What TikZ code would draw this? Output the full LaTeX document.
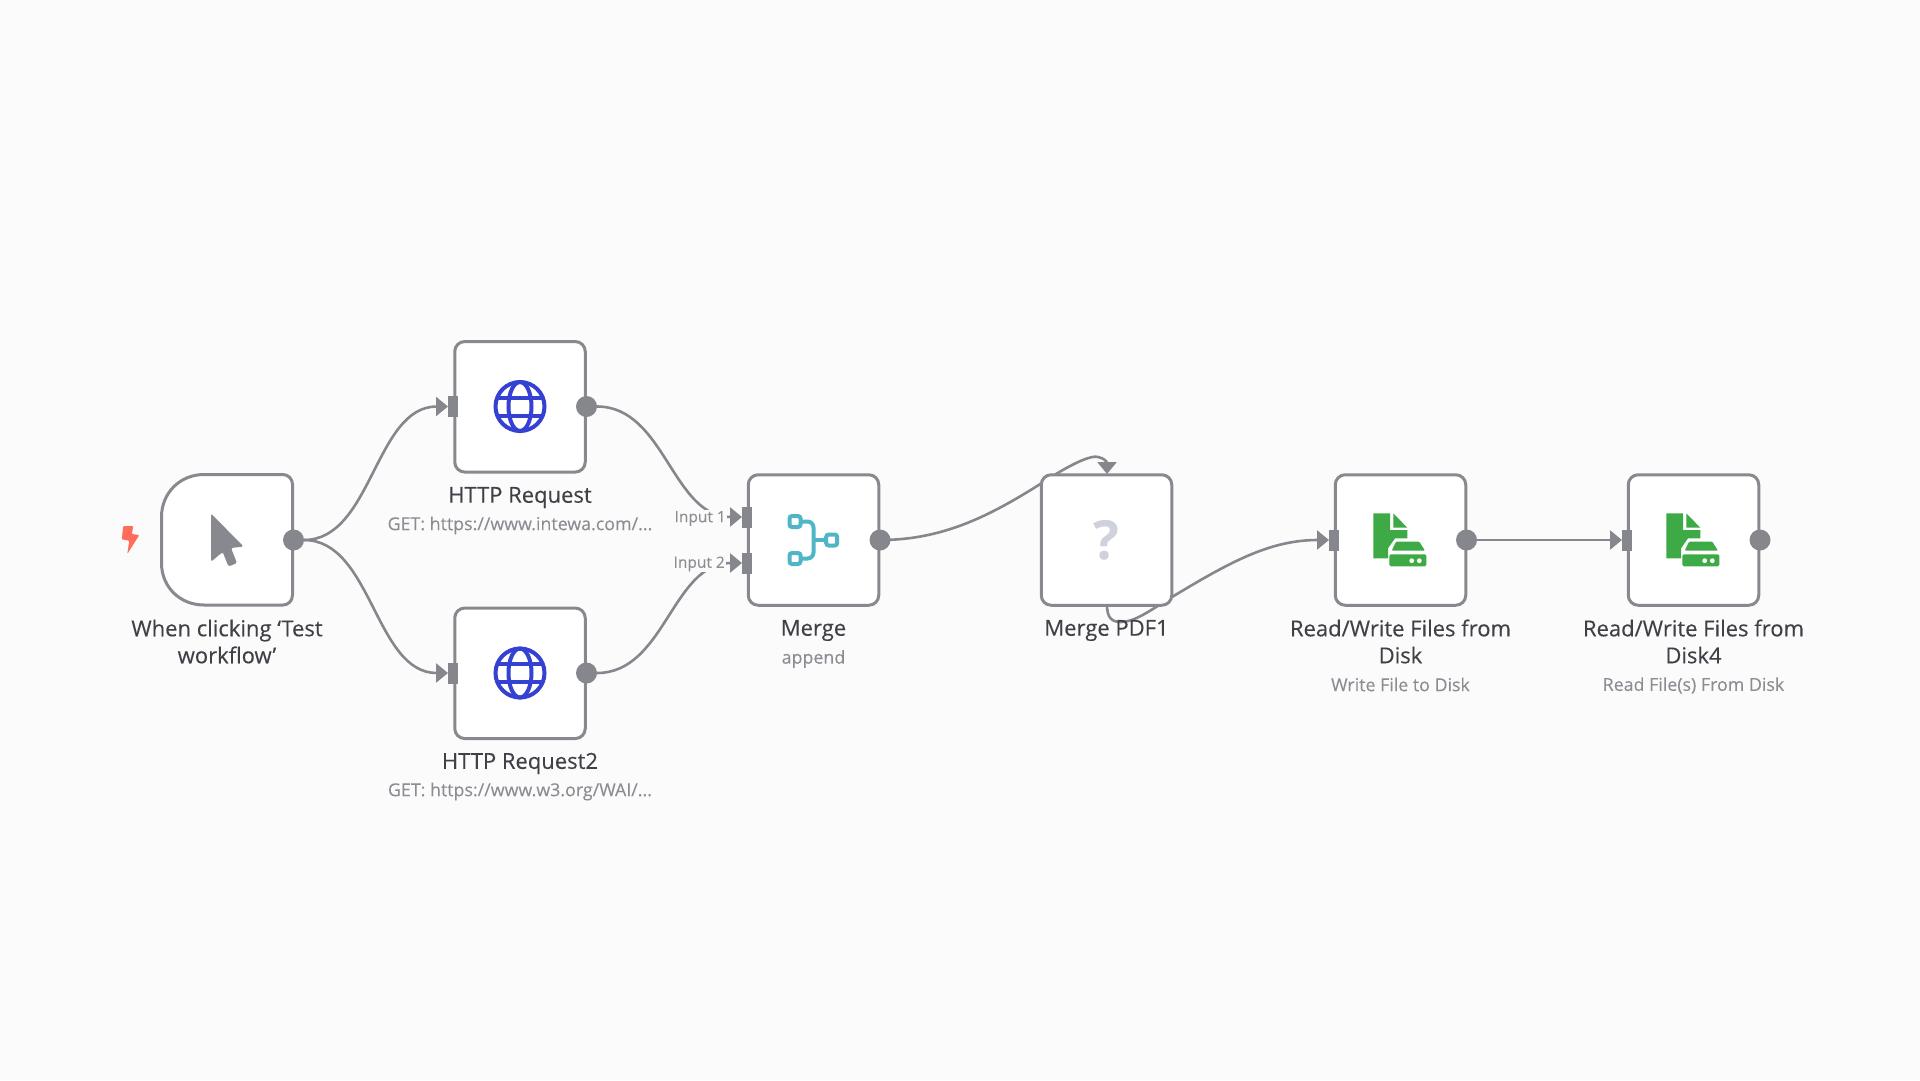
\documentclass[tikz,border=0pt]{standalone}
\usepackage{fontspec}
\setmainfont{Open Sans}
\newfontfamily\titlefont[FakeBold=0.25]{Open Sans}
\newfontfamily\subfont[FakeBold=0.08]{Open Sans}
\usetikzlibrary{arrows.meta}
\definecolor{bg}{HTML}{FBFBFB}
\definecolor{edgec}{HTML}{85878D}
\definecolor{borderc}{HTML}{88898E}
\definecolor{titlec}{HTML}{3F4147}
\definecolor{subc}{HTML}{8B8D93}
\definecolor{globec}{HTML}{3441D3}
\definecolor{mergec}{HTML}{4FB6C8}
\definecolor{filec}{HTML}{3DAA46}
\definecolor{boltc}{HTML}{FF6D5A}
\definecolor{qc}{HTML}{CFD2DC}
\tikzset{
  box/.style={draw=borderc,line width=3pt,fill=white,rounded corners=10pt,minimum width=130.5pt,minimum height=130.5pt,inner sep=0pt},
  conn/.style={draw=edgec,line width=2.6pt,-{Triangle[length=12pt,width=19pt]}},
  plainconn/.style={draw=edgec,line width=2.6pt},
  portout/.style={circle,fill=edgec,minimum size=21pt,inner sep=0pt},
  portin/.style={rectangle,fill=edgec,minimum width=10pt,minimum height=21pt,inner sep=0pt},
  title/.style={text=titlec,font=\titlefont\fontsize{22}{27}\selectfont,align=center,inner sep=0pt},
  subtitle/.style={text=subc,font=\subfont\fontsize{17.8}{22}\selectfont,align=center,inner sep=0pt},
  inlabel/.style={text=subc,font=\subfont\fontsize{15.5}{20}\selectfont,fill=bg,inner sep=1pt,anchor=east},
  globeline/.style={draw=globec,line width=4pt},
  mergeline/.style={draw=mergec,line width=4pt,rounded corners=2.5pt},
}
\newcommand{\globeicon}[1]{%
  \begin{scope}[shift={(#1)}]
    \draw[globeline] (0,0) circle (24.5pt);
    \draw[globeline] (0,0) ellipse (11.5pt and 24.5pt);
    \draw[globeline] (-22.6,-9) -- (22.6,-9);
    \draw[globeline] (-22.6,9) -- (22.6,9);
  \end{scope}}
\newcommand{\fileicon}[1]{%
  \begin{scope}[shift={(#1)}]
    \fill[filec] (-27.2,-26.7) -- (-10.5,-26.7) -- (-10.5,-10) -- (6.8,-10) -- (6.8,-1.7) -- (-5.5,-1.7) -- (-12.5,8.3) -- (-12.5,18.3) -- (-27.2,18.3) -- cycle;
    \fill[filec] (-7.2,-26.7) -- (6.8,-12.3) -- (-7.2,-12.3) -- cycle;
    \fill[filec,rounded corners=1pt] (-4.5,1.7) -- (18.8,1.7) -- (24.5,10.7) -- (-8.8,10.7) -- cycle;
    \fill[filec,rounded corners=1.5pt] (-11.2,14.3) rectangle (25.8,26.3);
    \fill[white] (11.2,20.7) circle (2.4pt) (18.8,20.7) circle (2.4pt);
  \end{scope}}
\begin{document}
\begin{tikzpicture}[x=1pt,y=-1pt]
\useasboundingbox (0,0) rectangle (1920,1080);
\fill[bg] (0,0) rectangle (1920,1080);

% node anchors
\node[box,draw=none,fill=none] (trig) at (227,540) {};
\coordinate (trigOut) at (293.5,540);
\coordinate (httpOneIn) at (448,406.5);
\coordinate (httpOneOut) at (586.5,406.5);
\coordinate (httpTwoIn) at (448,673);
\coordinate (httpTwoOut) at (586.5,673);
\coordinate (mergeInOne) at (742,517);
\coordinate (mergeInTwo) at (742,563);
\coordinate (mergeOut) at (880,540);
\coordinate (pdfIn) at (1107,474);
\coordinate (pdfOut) at (1107,605);
\coordinate (rwOneIn) at (1329,540);
\coordinate (rwOneOut) at (1466.5,540);
\coordinate (rwTwoIn) at (1622,540);
\coordinate (rwTwoOut) at (1760,540);

% connectors (behind the boxes)
\draw[plainconn] (trigOut) -- (304,540);
\draw[conn] (304,540) .. controls (372,540) and (375,406.5) .. (httpOneIn);
\draw[conn] (304,540) .. controls (372,540) and (375,673) .. (httpTwoIn);
\draw[conn] (httpOneOut) -- (597,406.5) .. controls (665,406.5) and (672,517) .. (mergeInOne);
\draw[conn] (httpTwoOut) -- (597,673) .. controls (665,673) and (672,563) .. (mergeInTwo);
\draw[conn] (mergeOut) .. controls (950,540) and (1000,510) .. (1056,474) .. controls (1076,462) and (1092,455) .. (1098,457) .. controls (1104,458) and (1107,462) .. (pdfIn);
\draw[conn] (pdfOut) .. controls (1107,618) and (1112,622) .. (1121,622) .. controls (1134,622) and (1148,612) .. (1172,597) .. controls (1230,562) and (1270,540) .. (rwOneIn);
\draw[conn] (rwOneOut) -- (rwTwoIn);

% boxes
\draw[draw=borderc,line width=3pt,fill=white]
  (292.5,484) -- (292.5,595) .. controls (292.5,601) and (288,605) .. (283,605)
  -- (204,605) .. controls (180,605) and (161.5,587) .. (161.5,563)
  -- (161.5,517) .. controls (161.5,493) and (180,474.5) .. (204,474.5)
  -- (283,474.5) .. controls (288,474.5) and (292.5,479) .. (292.5,484) -- cycle;
\node[box] (httpOne) at (520,406.8) {};
\node[box] (httpTwo) at (520,673.3) {};
\node[box] (merge) at (813.5,540) {};
\node[box] (pdf) at (1106.5,540) {};
\node[box] (rwOne) at (1400.5,540) {};
\node[box] (rwTwo) at (1693.5,540) {};

% ports
\node[portout] (pTrig) at (trigOut) {};
\node[portin] (pHttpOneIn) at (453,406.5) {};
\node[portout] (pHttpOneOut) at (httpOneOut) {};
\node[portin] (pHttpTwoIn) at (453,673) {};
\node[portout] (pHttpTwoOut) at (httpTwoOut) {};
\node[portin] (pMergeOne) at (747,517) {};
\node[portin] (pMergeTwo) at (747,563) {};
\node[portout] (pMergeOut) at (mergeOut) {};
\node[portin] (pRwOneIn) at (1334,540) {};
\node[portout] (pRwOneOut) at (rwOneOut) {};
\node[portin] (pRwTwoIn) at (1627,540) {};
\node[portout] (pRwTwoOut) at (rwTwoOut) {};

% input labels
\node[inlabel] (lblOne) at (727,518.5) {Input 1};
\node[inlabel] (lblTwo) at (726,564) {Input 2};

% icons
\fill[boltc,rounded corners=1pt] (123.3,526) -- (133.3,526) -- (131.7,534) -- (139.3,535) -- (127.3,554) -- (129.3,540.7) -- (121.7,539.3) -- cycle;
\fill[borderc,rounded corners=1.5pt] (211,513.5) -- (243.5,546.5) -- (231,548) -- (237,563) -- (228.5,566.5) -- (222.7,552) -- (211,561.7) -- cycle;
\globeicon{520,406.5}
\globeicon{520,673}
\begin{scope}[shift={(813.5,540)}]
  \draw[mergeline] (-24,-24) rectangle (-13,-13);
  \draw[mergeline] (-24,13) rectangle (-13,24);
  \draw[mergeline] (12.7,-5.5) rectangle (23.7,5.5);
  \draw[mergeline,rounded corners=6pt] (-13,-18.5) -- (0,-18.5) -- (0,18.5) -- (-13,18.5);
  \draw[mergeline] (0,0) -- (12.7,0);
\end{scope}
\node[text=qc,font=\fontsize{54}{54}\bfseries\selectfont,inner sep=0pt] (qmark) at (1106,540) {?};
\fileicon{1400.5,540}
\fileicon{1693.5,540}

% labels
\node[title] (tTrig) at (227,641.5) {When clicking ‘Test\\workflow’};
\node[title] (tHttpOne) at (520,497.5) {HTTP Request};
\node[subtitle] (sHttpOne) at (520,525.5) {GET: https://www.intewa.com/...};
\node[title] (tHttpTwo) at (520,763.5) {HTTP Request2};
\node[subtitle] (sHttpTwo) at (520,791.5) {GET: https://www.w3.org/WAI/...};
\node[title] (tMerge) at (813.5,630.5) {Merge};
\node[subtitle] (sMerge) at (813.5,659) {append};
\node[title] (tPdf) at (1106.5,630.5) {Merge PDF1};
\node[title] (tRwOne) at (1400.5,641.5) {Read/Write Files from\\Disk};
\node[subtitle] (sRwOne) at (1400.5,684.5) {Write File to Disk};
\node[title] (tRwTwo) at (1693.5,641.5) {Read/Write Files from\\Disk4};
\node[subtitle] (sRwTwo) at (1693.5,685.5) {Read File(s) From Disk};
\end{tikzpicture}
\end{document}
